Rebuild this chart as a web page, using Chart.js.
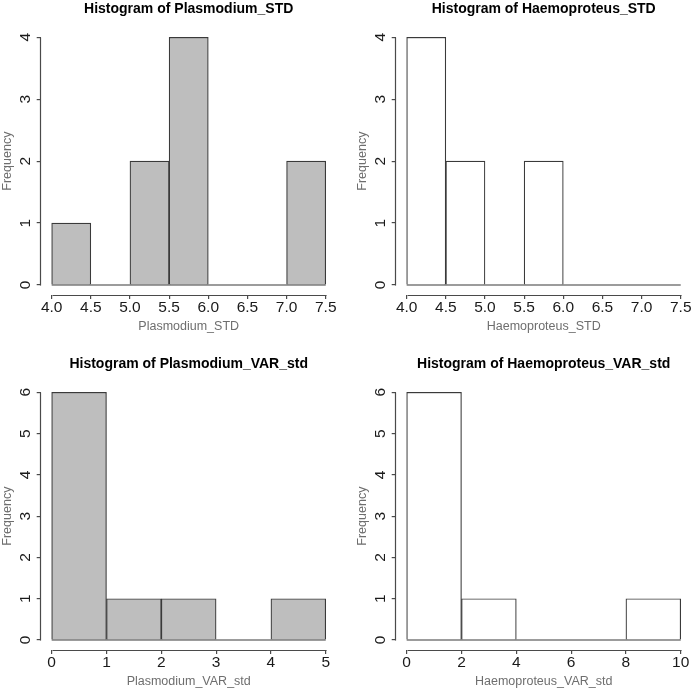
<!DOCTYPE html>
<html>
<head>
<meta charset="utf-8">
<script src="https://cdn.jsdelivr.net/npm/chart.js@4.4.1/dist/chart.umd.min.js"></script>
<style>
  html, body { margin: 0; padding: 0; background: #fff; }
  #wrap { position: relative; width: 695px; height: 693px; overflow: hidden; background: #fff; }
  canvas { position: absolute; }
</style>
</head>
<body>
<div id="wrap">
  <canvas id="c1" width="355" height="355" style="left:0px;top:0px"></canvas>
  <canvas id="c2" width="355" height="355" style="left:355px;top:0px"></canvas>
  <canvas id="c3" width="355" height="355" style="left:0px;top:355px"></canvas>
  <canvas id="c4" width="355" height="355" style="left:355px;top:355px"></canvas>
</div>
<script>
// ---------- data ----------
const plasmodiumStdBreaks = [4.0, 4.5, 5.0, 5.5, 6.0, 6.5, 7.0, 7.5];
const plasmodiumStdCounts = [1, 0, 2, 4, 0, 0, 2];
const haemoproteusStdBreaks = [4.0, 4.5, 5.0, 5.5, 6.0, 6.5, 7.0, 7.5];
const haemoproteusStdCounts = [4, 2, 0, 2, 0, 0, 0];
const plasmodiumVarBreaks = [0, 1, 2, 3, 4, 5];
const plasmodiumVarCounts = [6, 1, 1, 0, 1];
const haemoproteusVarBreaks = [0, 2, 4, 6, 8, 10];
const haemoproteusVarCounts = [6, 1, 0, 0, 1];

const stdTickValues = [4.0, 4.5, 5.0, 5.5, 6.0, 6.5, 7.0, 7.5];
const stdTickLabels = ["4.0", "4.5", "5.0", "5.5", "6.0", "6.5", "7.0", "7.5"];
const pVarTickValues = [0, 1, 2, 3, 4, 5];
const pVarTickLabels = ["0", "1", "2", "3", "4", "5"];
const hVarTickValues = [0, 2, 4, 6, 8, 10];
const hVarTickLabels = ["0", "2", "4", "6", "8", "10"];
const freqTicks4 = [0, 1, 2, 3, 4];
const freqTicks6 = [0, 1, 2, 3, 4, 5, 6];

const titles = [
  "Histogram of Plasmodium_STD",
  "Histogram of Haemoproteus_STD",
  "Histogram of Plasmodium_VAR_std",
  "Histogram of Haemoproteus_VAR_std"
];
const xTitles = ["Plasmodium_STD", "Haemoproteus_STD", "Plasmodium_VAR_std", "Haemoproteus_VAR_std"];

// ---------- styling ----------
const FONT = "'Liberation Sans', Arial, Helvetica, sans-serif";
const AXIS_COLOR = '#4a4a4a';
const BAR_BORDER = '#3a3a3a';
const GRAY_FILL = '#bebebe';

const axisLines = {
  id: 'axisLines',
  afterDraw(chart) {
    const { ctx, chartArea, scales: { x, y } } = chart;
    const xt = x.ticks, yt = y.ticks;
    ctx.save();
    ctx.strokeStyle = AXIS_COLOR;
    ctx.lineWidth = 1.2;
    ctx.beginPath();
    const yb = Math.round(chartArea.bottom) + 0.5;
    ctx.moveTo(Math.round(x.getPixelForValue(xt[0].value)) + 0.5, yb);
    ctx.lineTo(Math.round(x.getPixelForValue(xt[xt.length - 1].value)) + 0.5, yb);
    const xl = Math.round(chartArea.left) - 0.5;
    ctx.moveTo(xl, Math.round(y.getPixelForValue(yt[0].value)) + 0.5);
    ctx.lineTo(xl, Math.round(y.getPixelForValue(yt[yt.length - 1].value)) + 0.5);
    ctx.stroke();
    ctx.restore();
  }
};

function makeHist(id, title, xTitle, breaks, counts, fill, xTickValues, xTickLabels, yTickValues) {
  const lo = breaks[0], hi = breaks[breaks.length - 1];
  const xExt = (hi - lo) * 0.04;
  const yMax = yTickValues[yTickValues.length - 1];
  const yExt = yMax * 0.04;
  const barData = counts.map((c, i) => ({ x: (breaks[i] + breaks[i + 1]) / 2, y: c }));
  new Chart(document.getElementById(id), {
    type: 'bar',
    data: {
      datasets: [
        {
          type: 'bar',
          data: barData,
          backgroundColor: fill,
          borderColor: BAR_BORDER,
          borderWidth: 1.2,
          borderSkipped: 'start',
          barPercentage: 1,
          categoryPercentage: 1,
          order: 2
        },
        {
          type: 'line',
          data: [{ x: lo, y: 0 }, { x: hi, y: 0 }],
          borderColor: BAR_BORDER,
          borderWidth: 1.2,
          pointRadius: 0,
          order: 1
        }
      ]
    },
    options: {
      responsive: false,
      animation: false,
      devicePixelRatio: 1,
      layout: { padding: { left: 0, right: 18.3, top: 0, bottom: 15.1 } },
      plugins: {
        legend: { display: false },
        tooltip: { enabled: false },
        title: {
          display: true,
          text: title,
          fullSize: false,
          color: '#000',
          font: { family: FONT, size: 14, weight: 'bold', lineHeight: 1.2 },
          padding: { top: 1, bottom: 9.6 }
        }
      },
      scales: {
        x: {
          type: 'linear',
          offset: false,
          min: lo - xExt,
          max: hi + xExt,
          afterBuildTicks: s => { s.ticks = xTickValues.map(v => ({ value: v })); },
          afterFit: s => { s.height = 45; },
          grid: { display: true, offset: false, drawOnChartArea: false, drawTicks: true, tickLength: 4, color: AXIS_COLOR, lineWidth: 1.2 },
          border: { display: false },
          ticks: {
            autoSkip: false,
            maxRotation: 0,
            minRotation: 0,
            padding: 0,
            color: '#1a1a1a',
            font: { family: FONT, size: 15.5 },
            callback: (v, i) => xTickLabels[i]
          },
          title: {
            display: true,
            text: xTitle,
            color: '#6e6e6e',
            font: { family: FONT, size: 12.5, lineHeight: 1.2 },
            padding: { top: 5.4, bottom: 5.4 }
          }
        },
        y: {
          type: 'linear',
          min: -yExt,
          max: yMax + yExt,
          afterBuildTicks: s => { s.ticks = yTickValues.map(v => ({ value: v })); },
          afterFit: s => { s.width = 40.7; },
          grid: { display: true, drawOnChartArea: false, drawTicks: true, tickLength: 4, color: AXIS_COLOR, lineWidth: 1.2 },
          border: { display: false },
          ticks: {
            autoSkip: false,
            minRotation: 90,
            maxRotation: 90,
            crossAlign: 'center',
            padding: 6.5,
            color: '#1a1a1a',
            font: { family: FONT, size: 15.5 },
            callback: v => String(v)
          },
          title: {
            display: true,
            text: 'Frequency',
            color: '#6e6e6e',
            font: { family: FONT, size: 12.5, lineHeight: 1.2 },
            padding: { top: 0, bottom: 0 }
          }
        }
      }
    },
    plugins: [axisLines]
  });
}

makeHist('c1', titles[0], xTitles[0], plasmodiumStdBreaks, plasmodiumStdCounts, GRAY_FILL, stdTickValues, stdTickLabels, freqTicks4);
makeHist('c2', titles[1], xTitles[1], haemoproteusStdBreaks, haemoproteusStdCounts, '#ffffff', stdTickValues, stdTickLabels, freqTicks4);
makeHist('c3', titles[2], xTitles[2], plasmodiumVarBreaks, plasmodiumVarCounts, GRAY_FILL, pVarTickValues, pVarTickLabels, freqTicks6);
makeHist('c4', titles[3], xTitles[3], haemoproteusVarBreaks, haemoproteusVarCounts, '#ffffff', hVarTickValues, hVarTickLabels, freqTicks6);
</script>
</body>
</html>
